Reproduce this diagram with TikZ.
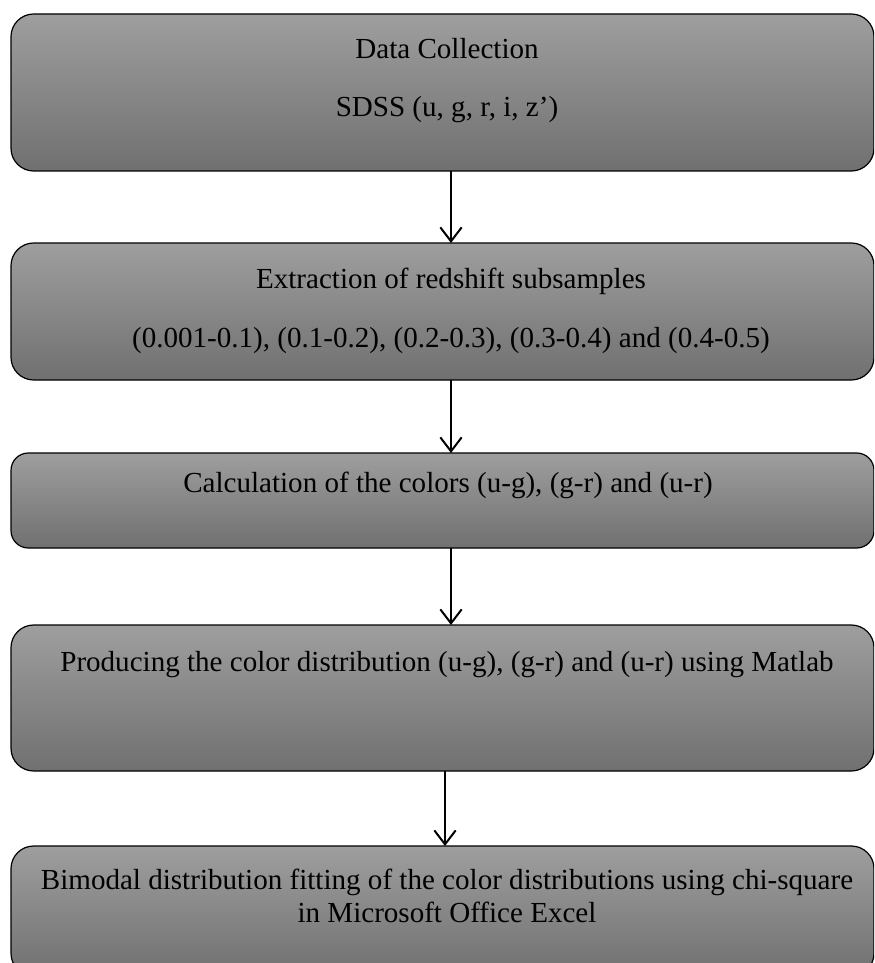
\documentclass[tikz,border=0pt]{standalone}
\usepackage{fontspec}
\setmainfont{Liberation Serif}
\usetikzlibrary{arrows.meta}
\definecolor{boxtop}{gray}{0.62}
\definecolor{boxbot}{gray}{0.44}
\tikzset{
  flowbox/.style={draw=black, line width=0.9pt, rounded corners=17pt,
    top color=boxtop, bottom color=boxbot, inner sep=0pt, outer sep=0pt,
    anchor=north west, minimum width=647.25pt},
  lbl/.style={anchor=base, inner sep=0pt, font=\fontsize{21.8}{26}\selectfont},
  flowarrow/.style={line width=1.5pt, -{Straight Barb[length=10.5pt,width=16pt,line width=1.5pt]}}
}
\begin{document}
\begin{tikzpicture}[x=0.75pt,y=-0.75pt]
\useasboundingbox (0,0) rectangle (874,963);
\clip (0,0) rectangle (874,963);
\fill[white] (0,0) rectangle (874,963);
% boxes
\node[flowbox, minimum height=117.75pt] (b1) at (11,14) {};
\node[flowbox, minimum height=102.75pt] (b2) at (11,243) {};
\node[flowbox, minimum height=71.25pt, rounded corners=13pt] (b3) at (11,453) {};
\node[flowbox, minimum height=109.5pt] (b4) at (11,625) {};
\node[flowbox, minimum height=97.5pt] (b5) at (11,846) {};
% texts
\node[lbl] (t1a) at (447,59) {Data Collection};
\node[lbl] (t1b) at (447,117) {SDSS (u, g, r, i, z’)};
\node[lbl] (t2a) at (451,288) {Extraction of redshift subsamples};
\node[lbl] (t2b) at (451,347) {(0.001-0.1), (0.1-0.2), (0.2-0.3), (0.3-0.4) and (0.4-0.5)};
\node[lbl] (t3) at (448,492) {Calculation of the colors (u-g), (g-r) and (u-r)};
\node[lbl] (t4) at (447,671) {Producing the color distribution (u-g), (g-r) and (u-r) using Matlab};
\node[lbl] (t5a) at (447,889) {Bimodal distribution fitting of the color distributions using chi-square};
\node[lbl] (t5b) at (447,922) {in Microsoft Office Excel};
% arrow columns
\coordinate (c1) at (451,0);
\coordinate (c4) at (445,0);
\draw[flowarrow] (b1.south -| c1) -- (b2.north -| c1);
\draw[flowarrow] (b2.south -| c1) -- (b3.north -| c1);
\draw[flowarrow] (b3.south -| c1) -- (b4.north -| c1);
\draw[flowarrow] (b4.south -| c4) -- (b5.north -| c4);
\end{tikzpicture}
\end{document}
